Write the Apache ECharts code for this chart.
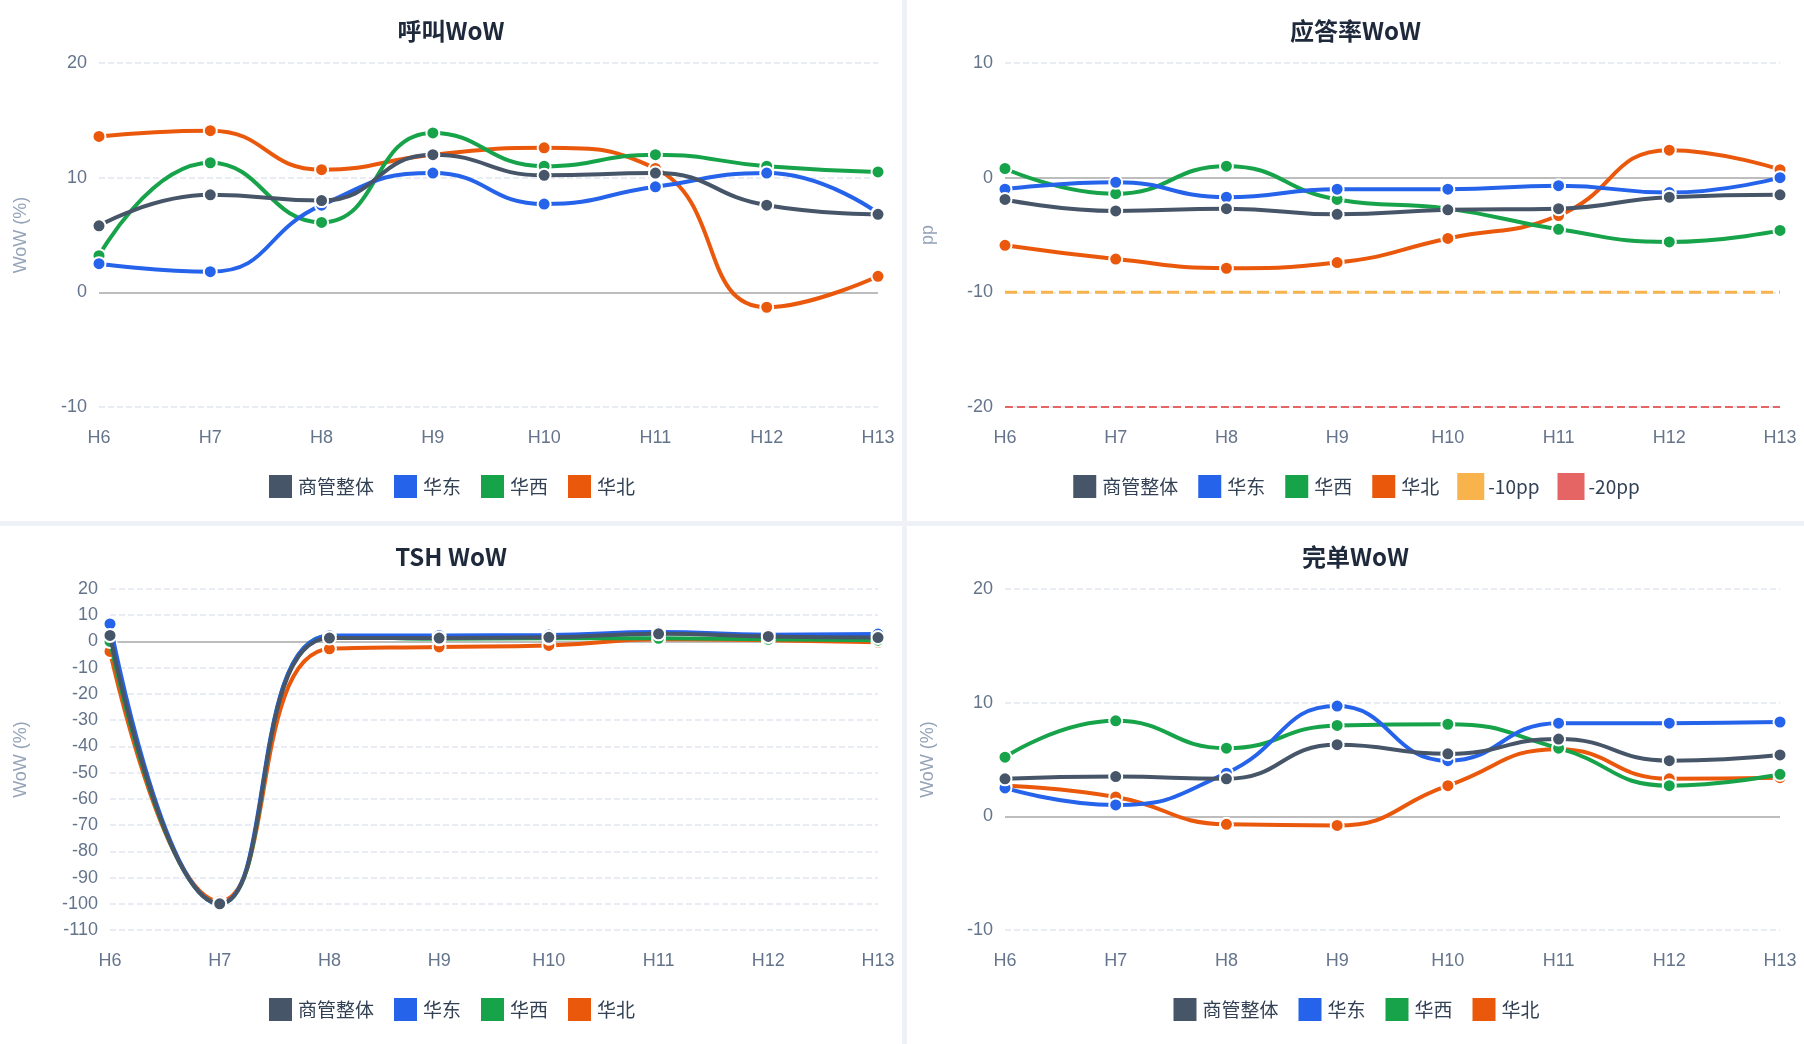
<!DOCTYPE html>
<html>
<head>
<meta charset="utf-8">
<script src="https://cdn.jsdelivr.net/npm/echarts@6/dist/echarts.min.js"></script>
<style>
  html, body { margin: 0; padding: 0; background: #eef1f5; }
  #wrap { width: 1804px; height: 1044px; display: grid; grid-template-columns: 902px 897px; grid-template-rows: 521px 518px; gap: 5px; }
  .box { background: #fff; }
</style>
</head>
<body>
<div id="wrap">
  <div class="box" id="c1"></div>
  <div class="box" id="c2"></div>
  <div class="box" id="c3"></div>
  <div class="box" id="c4"></div>
</div>
<script>
var hours = ['H6', 'H7', 'H8', 'H9', 'H10', 'H11', 'H12', 'H13'];
var names = ['商管整体', '华东', '华西', '华北'];
var colors = ['#475569', '#2563eb', '#16a34a', '#ea580c'];

// 呼叫WoW
var callAll   = [5.8, 8.5, 8.0, 12.0, 10.2, 10.4, 7.6, 6.8];
var callEast  = [2.5, 1.8, 7.6, 10.4, 7.7, 9.2, 10.4, 6.9];
var callWest  = [3.2, 11.3, 6.1, 13.9, 11.0, 12.0, 11.0, 10.5];
var callNorth = [13.6, 14.1, 10.7, 12.0, 12.6, 10.8, -1.3, 1.4];

// 应答率WoW
var ansAll   = [-1.9, -2.9, -2.7, -3.2, -2.8, -2.7, -1.7, -1.5];
var ansEast  = [-1.0, -0.4, -1.7, -1.0, -1.0, -0.7, -1.3, 0.0];
var ansWest  = [0.8, -1.4, 1.0, -1.9, -2.7, -4.5, -5.6, -4.6];
var ansNorth = [-5.9, -7.1, -7.9, -7.4, -5.3, -3.3, 2.4, 0.7];
var warn10 = [-10, -10, -10, -10, -10, -10, -10, -10];
var warn20 = [-20, -20, -20, -20, -20, -20, -20, -20];

// TSH WoW
var tshAll   = [2.3, -100, 1.3, 1.3, 1.6, 2.9, 1.9, 1.5];
var tshEast  = [6.7, -100, 2.2, 2.3, 2.5, 3.6, 2.6, 2.8];
var tshWest  = [0.0, -100, 2.2, 1.0, 1.2, 1.2, 0.8, 0.5];
var tshNorth = [-3.8, -99, -2.8, -2.1, -1.5, 0.8, 0.5, -0.3];

// 完单WoW
var doneAll   = [3.3, 3.5, 3.3, 6.3, 5.5, 6.8, 4.9, 5.4];
var doneEast  = [2.5, 1.0, 3.8, 9.7, 4.9, 8.2, 8.2, 8.3];
var doneWest  = [5.2, 8.4, 6.0, 8.0, 8.1, 6.0, 2.7, 3.7];
var doneNorth = [2.7, 1.7, -0.7, -0.8, 2.7, 5.9, 3.3, 3.4];

function lineSeries(name, data, color, i) {
  var s = {
    name: name, type: 'line', data: data, smooth: true,
    symbol: 'circle', symbolSize: 13,
    lineStyle: { width: 4, color: color },
    itemStyle: { color: color, borderColor: '#fff', borderWidth: 2 },
    z: 10 - i
  };
  if (i === 0) {
    s.markLine = {
      silent: true, symbol: 'none', label: { show: false },
      lineStyle: { color: '#bdbdbd', type: 'solid', width: 2 },
      data: [{ yAxis: 0 }]
    };
  }
  return s;
}

function makeChart(id, title, yName, min, max, interval, data, left, extra) {
  var chart = echarts.init(document.getElementById(id));
  var series = data.map(function (d, i) { return lineSeries(names[i], d, colors[i], i); });
  var legendData = names.slice();
  if (extra) {
    extra.forEach(function (e) {
      legendData.push(e.name);
      series.push({
        name: e.name, type: 'line', data: e.data, symbol: 'none', silent: true,
        lineStyle: { color: e.color, type: 'dashed', width: e.width },
        itemStyle: { color: e.color, borderColor: e.color, borderType: 'dashed', borderWidth: 3 },
        z: 1
      });
    });
  }
  chart.setOption({
    title: {
      text: title, left: 'center', top: 14,
      textStyle: { fontSize: 24, fontWeight: 'bold', color: '#1e293b', fontFamily: 'Noto Sans CJK SC' }
    },
    legend: {
      data: legendData, bottom: 16, icon: 'rect', itemWidth: 25, itemHeight: 25, itemGap: 18,
      textStyle: { fontSize: 19, color: '#334155', fontFamily: 'Noto Sans CJK SC' }
    },
    grid: { left: left, right: 24, top: 63, bottom: 114 },
    xAxis: {
      type: 'category', data: hours, boundaryGap: false,
      axisLine: { show: false }, axisTick: { show: false },
      axisLabel: { color: '#64748b', fontSize: 18, margin: 22 }
    },
    yAxis: {
      type: 'value', min: min, max: max, interval: interval,
      name: yName, nameLocation: 'middle', nameGap: left - 30,
      nameTextStyle: { color: '#94a3b8', fontSize: 18 },
      axisLabel: { color: '#64748b', fontSize: 18, margin: 12 },
      splitLine: { lineStyle: { type: 'dashed', color: '#e2e8f0', width: 1.5 } }
    },
    series: series
  });
}

makeChart('c1', '呼叫WoW', 'WoW (%)', -10, 20, 10,
  [callAll, callEast, callWest, callNorth], 99);
makeChart('c2', '应答率WoW', 'pp', -20, 10, 10,
  [ansAll, ansEast, ansWest, ansNorth], 98,
  [{ name: '-10pp', data: warn10, color: '#f8b34c', width: 3 },
   { name: '-20pp', data: warn20, color: '#e56464', width: 2 }]);
makeChart('c3', 'TSH WoW', 'WoW (%)', -110, 20, 10,
  [tshAll, tshEast, tshWest, tshNorth], 110);
makeChart('c4', '完单WoW', 'WoW (%)', -10, 20, 10,
  [doneAll, doneEast, doneWest, doneNorth], 98);
</script>
</body>
</html>
